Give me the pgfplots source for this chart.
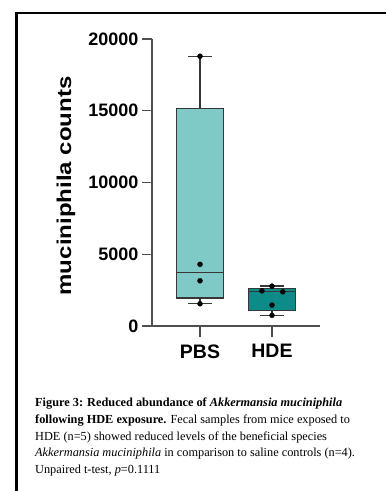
\documentclass[border=0pt]{standalone}
\usepackage{pgfplots}
\pgfplotsset{compat=1.18}
\usepgfplotslibrary{statistics}
\usepackage{fontspec}
\setmainfont{Liberation Sans}
\newfontfamily\capfont{Liberation Serif}
\definecolor{lightteal}{RGB}{127,201,199}
\definecolor{darkteal}{RGB}{12,139,137}
\definecolor{edge}{RGB}{55,55,55}
\definecolor{axgray}{RGB}{80,80,80}
\begin{document}
\begin{tikzpicture}
\useasboundingbox (0,0) rectangle (386pt,491pt);
\draw[line width=2.3pt] (16.5pt,0pt) -- (16.5pt,478pt) -- (386pt,478pt);
\begin{axis}[
  at={(152pt,165pt)}, anchor=south west,
  scale only axis, width=168pt, height=287pt,
  xmin=0.333, xmax=2.667, ymin=0, ymax=20000,
  axis x line=bottom, axis y line=left,
  axis line style={-, axgray, line width=1.2pt},
  tick style={axgray, line width=1.2pt},
  tick align=outside, major tick length=10pt,
  xtick={1,2}, xticklabels={PBS,HDE},
  ytick={0,5000,10000,15000,20000},
  scaled y ticks=false,
  /pgf/number format/1000 sep={},
  /pgf/number format/assume math mode=true,
  yticklabel style={font=\fontsize{18}{20}\selectfont\bfseries},
  xticklabel style={font=\fontsize{19.5}{22}\selectfont\bfseries, yshift=-5pt},
  clip=false,
]
\addplot+[boxplot/draw direction=y, boxplot prepared={draw position=1, lower whisker=1550, lower quartile=1950, median=3725, upper quartile=15175, upper whisker=18800, box extend=0.65, whisker extend=0.33},
  draw=edge, line width=1.3pt, fill=lightteal, solid, mark=none] coordinates {};
\addplot+[boxplot/draw direction=y, boxplot prepared={draw position=2, lower whisker=745, lower quartile=1100, median=2415, upper quartile=2615, upper whisker=2780, box extend=0.65, whisker extend=0.33},
  draw=edge, line width=1.3pt, fill=darkteal, solid, mark=none] coordinates {};
\addplot[only marks, mark=*, mark size=2.5pt, black] coordinates {
 (1,18800) (1,4300) (1,3150) (1,1550)
 (2,2780) (1.86,2450) (2.15,2380) (2,1460) (2,745)};
\coordinate (t1) at (axis cs:1,0);
\coordinate (t2) at (axis cs:2,0);
\end{axis}
\fill[black!70] (t1) ++(-0.8pt,0pt) rectangle ++(1.6pt,-11pt);
\fill[black!70] (t2) ++(-0.8pt,0pt) rectangle ++(1.6pt,-11pt);
\node[rotate=90, font=\fontsize{20}{22}\selectfont\bfseries] at (66pt,305pt) {\scalebox{1.2}[1]{muciniphila counts}};
\begin{scope}[every node/.style={anchor=base west, inner sep=0pt, font=\capfont\fontsize{12.3}{14}\selectfont}]
\node at (35pt,84pt) {\textbf{Figure 3: Reduced abundance of \textit{Akkermansia muciniphila}}};
\node at (35pt,67.4pt) {\textbf{following HDE exposure.} Fecal samples from mice exposed to};
\node at (35pt,50.8pt) {HDE (n=5) showed reduced levels of the beneficial species};
\node at (35pt,34.2pt) {\textit{Akkermansia muciniphila} in comparison to saline controls (n=4).};
\node at (35pt,17.6pt) {Unpaired t-test, \textit{p}=0.1111};
\end{scope}
\end{tikzpicture}
\end{document}
